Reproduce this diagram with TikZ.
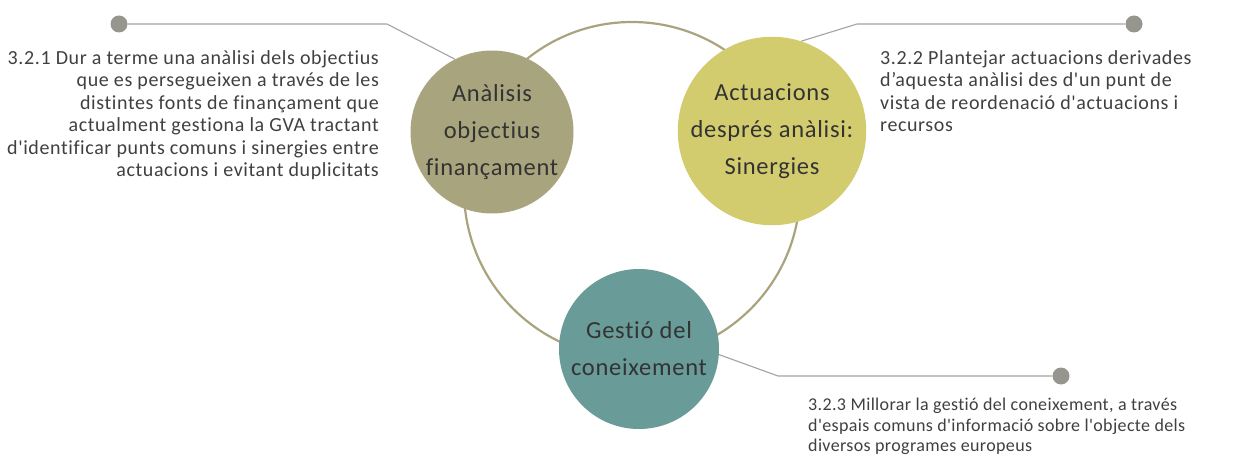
\documentclass[tikz,border=0pt]{standalone}
\usepackage{fontspec}
\setmainfont{Carlito}[LetterSpace=3, Ligatures={TeXOff,CommonOff}]
\definecolor{cA}{HTML}{A8A47D}
\definecolor{cB}{HTML}{D2CC6E}
\definecolor{cC}{HTML}{699B98}
\definecolor{cRing}{HTML}{A9A47D}
\definecolor{cLine}{HTML}{A3A3A3}
\definecolor{cDot}{HTML}{96968F}
\definecolor{cTxt}{HTML}{404040}
\tikzset{
  ring/.style={draw=cRing, line width=2.2pt},
  bub/.style={circle, minimum size=160pt, inner sep=0pt, align=center, text=cTxt!80!black,
              font=\fontsize{24.5}{37}\selectfont},
  dotnode/.style={circle, fill=cDot, minimum size=17pt, inner sep=0pt},
  conn/.style={draw=cLine, line width=1.1pt},
  desc/.style={inner sep=0pt, text=cTxt, font=\fontsize{20}{22.5}\selectfont}
}
\begin{document}
\begin{tikzpicture}[x=1pt,y=-1pt]
\useasboundingbox (0,0) rectangle (1234,457);
\fill[white] (0,0) rectangle (1234,457);
\draw[ring] (632,190) circle[radius=168pt];
\node[bub, fill=cA] (A) at (492,132) {Anàlisis\\objectius\\finançament};
\node[bub, fill=cB] (B) at (772,131) {Actuacions\\després anàlisi:\\Sinergies};
\node[bub, fill=cC] (C) at (639,349) {Gestió del\\coneixement};
\node[dotnode] (d1) at (119,24) {};
\node[dotnode] (d2) at (1134,24) {};
\node[dotnode] (d3) at (1061,376) {};
\coordinate (b1) at (387,24);
\coordinate (b2) at (857,24);
\coordinate (b3) at (778,376);
\draw[conn] (d1) -- (b1) -- (A.117);
\draw[conn] (d2) -- (b2) -- (B.72);
\draw[conn] (d3) -- (b3) -- (C.-4);
\node[desc, anchor=north east, align=right] (t1) at (379,50)
  {3.2.1 Dur a terme una anàlisi dels objectius\\
   que es persegueixen a través de les\\
   distintes fonts de finançament que\\
   actualment gestiona la GVA tractant\\
   d'identificar punts comuns i sinergies entre\\
   actuacions i evitant duplicitats};
\node[desc, anchor=north west, align=left] (t2) at (880,50)
  {3.2.2 Plantejar actuacions derivades\\
   d’aquesta anàlisi des d'un punt de\\
   vista de reordenació d'actuacions i\\
   recursos};
\node[desc, anchor=north west, align=left,
      font=\fontsize{18}{20.5}\selectfont\addfontfeatures{LetterSpace=2}] (t3) at (808,398)
  {3.2.3 Millorar la gestió del coneixement, a través\\
   d'espais comuns d'informació sobre l'objecte dels\\
   diversos programes europeus};
\end{tikzpicture}
\end{document}
